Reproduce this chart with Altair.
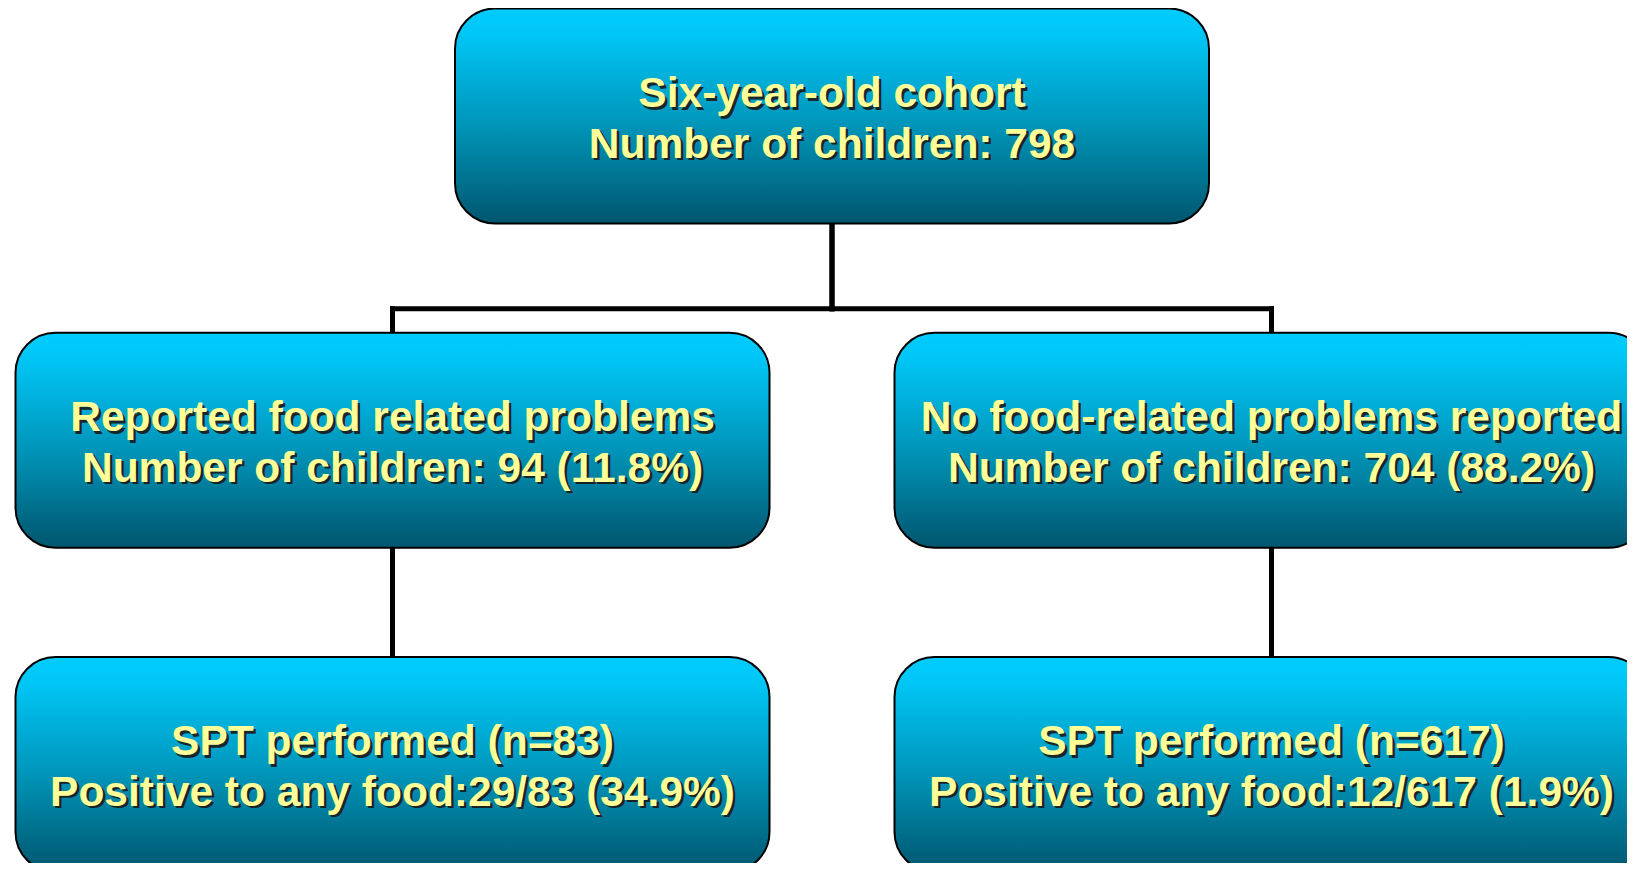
import altair as alt
import pandas as pd

# ---- flowchart content ----
node_ids = ["root", "rep", "norep", "rep_spt", "norep_spt"]
node_line1 = [
    "Six-year-old cohort",
    "Reported food related problems",
    "No food-related problems reported",
    "SPT performed (n=83)",
    "SPT performed (n=617)",
]
node_line2 = [
    "Number of children: 798",
    "Number of children: 94 (11.8%)",
    "Number of children: 704 (88.2%)",
    "Positive to any food:29/83 (34.9%)",
    "Positive to any food:12/617 (1.9%)",
]
node_level = [0, 1, 1, 2, 2]
node_col = [0, -1, 1, -1, 1]

edge_parent = ["root", "root", "rep", "norep"]
edge_child = ["rep", "norep", "rep_spt", "norep_spt"]

# ---- layout (in layout units: column / level) ----
HALF_W = 0.8578
HALF_H = 0.3315
ELBOW_FRAC = 0.78

nodes = pd.DataFrame({
    "id": node_ids,
    "label": [a + "\n" + b for a, b in zip(node_line1, node_line2)],
    "level": node_level,
    "col": node_col,
})
nodes["x0"] = nodes["col"] - HALF_W
nodes["x1"] = nodes["col"] + HALF_W
nodes["y0"] = nodes["level"] - HALF_H
nodes["y1"] = nodes["level"] + HALF_H

pos = nodes.set_index("id")
segs = []
for p, c in zip(edge_parent, edge_child):
    pc, pl = pos.loc[p, "col"], pos.loc[p, "level"]
    cc, cl = pos.loc[c, "col"], pos.loc[c, "level"]
    top = pl + HALF_H
    bot = cl - HALF_H
    if pc == cc:
        segs.append((pc, top, cc, bot))
    else:
        elbow = top + ELBOW_FRAC * (bot - top)
        segs.append((pc, top, pc, elbow))
        segs.append((pc, elbow, cc, elbow))
        segs.append((cc, elbow, cc, bot))
edges = pd.DataFrame(segs, columns=["xa", "ya", "xb", "yb"])

xscale = alt.Scale(domain=[-1.8749, 1.8089], nice=False, zero=False)
yscale = alt.Scale(domain=[-0.3331, 2.3038], nice=False, zero=False, reverse=True)

X = lambda f: alt.X(f, type="quantitative", scale=xscale, axis=None)
Y = lambda f: alt.Y(f, type="quantitative", scale=yscale, axis=None)

lines = alt.Chart(edges).mark_rule(
    color="black", strokeWidth=5, strokeCap="square", clip=True
).encode(
    x=X("xa"), y=Y("ya"), x2="xb", y2="yb"
)

gradient = alt.Gradient(
    gradient="linear",
    stops=[
        alt.GradientStop(color="#00CCFF", offset=0),
        alt.GradientStop(color="#00C6F6", offset=0.12),
        alt.GradientStop(color="#0094B8", offset=0.55),
        alt.GradientStop(color="#00566E", offset=1),
    ],
    x1=0, x2=0, y1=0, y2=1,
)

boxes = alt.Chart(nodes).mark_rect(
    fill=gradient, stroke="black", strokeWidth=2, cornerRadius=40, clip=True
).encode(
    x=X("x0"), x2="x1", y=Y("y0"), y2="y1"
)

text_common = dict(
    font="Liberation Sans", fontWeight="bold", fontSize=42.5,
    lineBreak="\n", lineHeight=50.5, align="center", baseline="middle", clip=True,
)

shadow = alt.Chart(nodes).mark_text(
    color="#1a1a1a", dx=2.5, dy=-19.5, opacity=0.9, **text_common
).encode(
    x=X("col"), y=Y("level"), text="label"
)

labels = alt.Chart(nodes).mark_text(
    color="#FFFF99", dx=0, dy=-22, **text_common
).encode(
    x=X("col"), y=Y("level"), text="label"
)

chart = alt.layer(lines, boxes, shadow, labels).properties(
    width=1619, height=855, padding=0, autosize="none", background="white"
).configure_view(stroke=None)

chart.save("out.html", embed_options={"renderer": "svg", "actions": False})
